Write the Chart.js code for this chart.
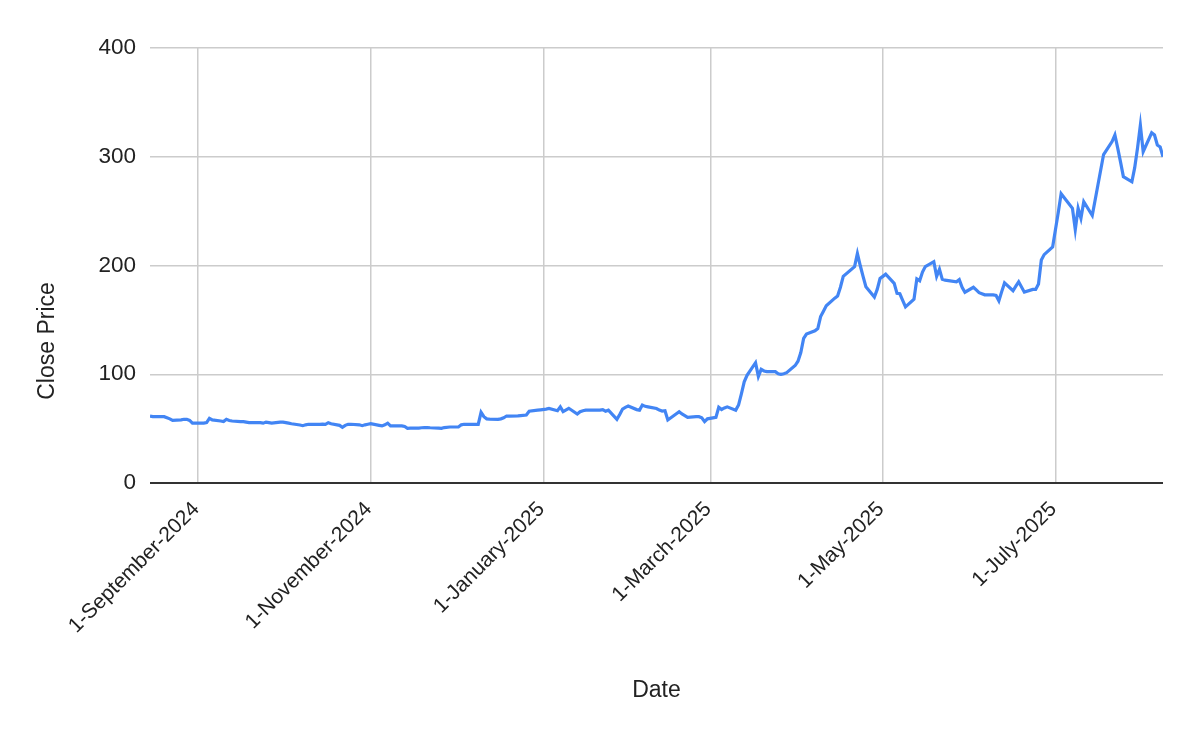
<!DOCTYPE html>
<html>
<head>
<meta charset="utf-8">
<script src="https://cdn.jsdelivr.net/npm/chart.js@4.4.1/dist/chart.umd.min.js"></script>
<style>
  html, body { margin: 0; padding: 0; background: #ffffff; }
  #wrap { width: 1200px; height: 742px; position: relative; }
</style>
</head>
<body>
<div id="wrap"><canvas id="c" width="1200" height="742"></canvas></div>
<script>
const dates = [
 '2024-08-15','2024-08-16','2024-08-19','2024-08-20','2024-08-21','2024-08-22','2024-08-23','2024-08-26','2024-08-27','2024-08-28','2024-08-29','2024-08-30',
 '2024-09-03','2024-09-04','2024-09-05','2024-09-06','2024-09-09','2024-09-10','2024-09-11','2024-09-12','2024-09-13','2024-09-16','2024-09-17','2024-09-18','2024-09-19','2024-09-20','2024-09-23','2024-09-24','2024-09-25','2024-09-26','2024-09-27','2024-09-30',
 '2024-10-01','2024-10-02','2024-10-03','2024-10-04','2024-10-07','2024-10-08','2024-10-09','2024-10-10','2024-10-11','2024-10-14','2024-10-15','2024-10-16','2024-10-17','2024-10-18','2024-10-21','2024-10-22','2024-10-23','2024-10-24','2024-10-25','2024-10-28','2024-10-29','2024-10-30','2024-10-31',
 '2024-11-01','2024-11-04','2024-11-05','2024-11-06','2024-11-07','2024-11-08','2024-11-11','2024-11-12','2024-11-13','2024-11-14','2024-11-15','2024-11-18','2024-11-19','2024-11-20','2024-11-21','2024-11-22','2024-11-25','2024-11-26','2024-11-27','2024-11-29',
 '2024-12-02','2024-12-03','2024-12-04','2024-12-05','2024-12-06','2024-12-09','2024-12-10','2024-12-11','2024-12-12','2024-12-13','2024-12-16','2024-12-17','2024-12-18','2024-12-19','2024-12-20','2024-12-23','2024-12-24','2024-12-26','2024-12-27','2024-12-30','2024-12-31',
 '2025-01-02','2025-01-03','2025-01-06','2025-01-07','2025-01-08','2025-01-10','2025-01-13','2025-01-14','2025-01-15','2025-01-16','2025-01-17','2025-01-21','2025-01-22','2025-01-23','2025-01-24','2025-01-27','2025-01-28','2025-01-29','2025-01-30','2025-01-31',
 '2025-02-03','2025-02-04','2025-02-05','2025-02-06','2025-02-07','2025-02-10','2025-02-11','2025-02-12','2025-02-13','2025-02-14','2025-02-18','2025-02-19','2025-02-20','2025-02-21','2025-02-24','2025-02-25','2025-02-26','2025-02-27','2025-02-28',
 '2025-03-03','2025-03-04','2025-03-05','2025-03-06','2025-03-07','2025-03-10','2025-03-11','2025-03-12','2025-03-13','2025-03-14','2025-03-17','2025-03-18','2025-03-19','2025-03-20','2025-03-21','2025-03-24','2025-03-25','2025-03-26','2025-03-27','2025-03-28','2025-03-31',
 '2025-04-01','2025-04-02','2025-04-03','2025-04-04','2025-04-07','2025-04-08','2025-04-09','2025-04-10','2025-04-11','2025-04-14','2025-04-15','2025-04-16','2025-04-17','2025-04-21','2025-04-22','2025-04-23','2025-04-24','2025-04-25','2025-04-28','2025-04-29','2025-04-30',
 '2025-05-01','2025-05-02','2025-05-05','2025-05-06','2025-05-07','2025-05-08','2025-05-09','2025-05-12','2025-05-13','2025-05-14','2025-05-15','2025-05-16','2025-05-19','2025-05-20','2025-05-21','2025-05-22','2025-05-23','2025-05-27','2025-05-28','2025-05-29','2025-05-30',
 '2025-06-02','2025-06-03','2025-06-04','2025-06-05','2025-06-06','2025-06-09','2025-06-10','2025-06-11','2025-06-12','2025-06-13','2025-06-16','2025-06-17','2025-06-18','2025-06-20','2025-06-23','2025-06-24','2025-06-25','2025-06-26','2025-06-27','2025-06-30',
 '2025-07-01','2025-07-02','2025-07-03','2025-07-07','2025-07-08','2025-07-09','2025-07-10','2025-07-11','2025-07-14','2025-07-15','2025-07-16','2025-07-17','2025-07-18','2025-07-21','2025-07-22','2025-07-23','2025-07-24','2025-07-25','2025-07-28','2025-07-29','2025-07-30','2025-07-31',
 '2025-08-01','2025-08-04','2025-08-05','2025-08-06','2025-08-07','2025-08-08'
];
const closePrices = [
 61.5,61,61,61,60,59,57.5,58,58.6,58.5,57.5,55,
 55,55.5,59.5,58,57,56.5,58.6,57.5,57,56.5,56.5,56,55.5,55.5,55.5,55,56,55.5,55,56,
 56,55.5,55,54.5,53.3,52.7,53.5,54,54,54,54.2,54,55.5,54.5,53,51.2,53,54,54,53.5,52.7,53.5,54,
 54.5,53,52.5,53.5,55,52.5,52.5,52.5,52,50.3,50.5,50.5,50.8,51,51,50.8,50.5,50.3,51,51.5,
 51.5,53.5,54,54,54,54,65,61,59,58.8,58.5,59,60,61.6,61.5,61.8,62,62.5,66,67,67.3,
 68,68.5,66.5,70,65.6,68.7,63.4,65.6,66.5,67,67,67,67.5,66,67,58.5,63,68,69.5,70.8,
 67.5,67,71.7,70.5,70,68.5,67,66.2,66.5,58,65.6,63.5,62,60.4,61,61,60,56.4,59,
 60.4,69.6,67.6,69,70,67,71.7,82,93,99,110.6,98,104.5,103,102.4,102.4,100.5,100,100.5,101.5,108,
 112,120,133,137,140,142,153,158,163,170,172,180,190,199,211,200,190,180.5,171,178,188,
 190,192,183.6,174.4,174,168,162,169,187.6,186,194,199,203.5,190,196.5,187.3,186.5,185,187,180,175.4,
 180,177.5,175,174,173,173,172.5,167.6,176,184,176.8,181,185,175.5,178,178,183,205,210,217,
 233,249,266,252.6,233,252.6,243.4,258.7,246,260,274,288,302,314,320,308,295,281.7,277,290,308,329,
 304.6,322,320,310.8,309,300
];
const xTickDates = ['2024-09-01','2024-11-01','2025-01-01','2025-03-01','2025-05-01','2025-07-01'];
const xTickLabels = ['1-September-2024','1-November-2024','1-January-2025','1-March-2025','1-May-2025','1-July-2025'];
const yTicks = [0, 100, 200, 300, 400];
const xRange = ['2024-08-15', '2025-08-08'];
const yTitle = 'Close Price';
const xTitle = 'Date';

function dayNum(s) {
  const p = s.split('-').map(Number);
  return Date.UTC(p[0], p[1] - 1, p[2]) / 86400000;
}

const points = dates.map((d, i) => ({ x: dayNum(d), y: closePrices[i] }));
const FONT = "Arial, 'Liberation Sans', sans-serif";

const yTitlePlugin = {
  id: 'yTitle',
  afterDraw(chart) {
    const ctx = chart.ctx;
    ctx.save();
    ctx.translate(48, 341);
    ctx.rotate(-Math.PI / 2);
    ctx.font = '23px ' + FONT;
    ctx.fillStyle = '#222222';
    ctx.textAlign = 'center';
    ctx.textBaseline = 'middle';
    ctx.fillText(yTitle, 0, 0);
    ctx.restore();
  }
};

new Chart(document.getElementById('c'), {
  type: 'line',
  data: {
    datasets: [{
      label: yTitle,
      data: points,
      borderColor: '#4285F4',
      backgroundColor: '#4285F4',
      borderWidth: 3.2,
      pointRadius: 0,
      pointHoverRadius: 0,
      tension: 0,
      fill: false
    }]
  },
  plugins: [yTitlePlugin],
  options: {
    responsive: false,
    animation: false,
    events: [],
    layout: { padding: { top: 48, right: 37, left: 0, bottom: 0 } },
    plugins: { legend: { display: false }, tooltip: { enabled: false } },
    scales: {
      x: {
        type: 'linear',
        min: dayNum(xRange[0]),
        max: dayNum(xRange[1]),
        afterBuildTicks: (scale) => { scale.ticks = xTickDates.map(d => ({ value: dayNum(d) })); },
        afterFit: (scale) => { scale.height = 259; },
        border: { display: false },
        grid: { color: '#cccccc', lineWidth: 1.5, drawTicks: false },
        ticks: {
          autoSkip: false,
          minRotation: 45,
          maxRotation: 45,
          padding: 14,
          labelOffset: -2,
          color: '#222222',
          font: { family: FONT, size: 21 },
          callback: (v, i) => xTickLabels[i]
        },
        title: {
          display: true,
          text: xTitle,
          color: '#222222',
          font: { family: FONT, size: 23 },
          padding: { top: 0, bottom: 38 }
        }
      },
      y: {
        min: 0,
        max: 400,
        afterBuildTicks: (scale) => { scale.ticks = yTicks.map(v => ({ value: v })); },
        afterFit: (scale) => { scale.width = 150; },
        border: { display: false },
        grid: {
          drawTicks: false,
          color: (ctx) => (ctx.tick && ctx.tick.value === 0) ? '#333333' : '#cccccc',
          lineWidth: (ctx) => (ctx.tick && ctx.tick.value === 0) ? 2 : 1.5
        },
        ticks: {
          padding: 14,
          color: '#222222',
          font: { family: FONT, size: 22.5 },
          callback: (v) => String(v)
        },
        title: { display: false }
      }
    }
  }
});
</script>
</body>
</html>
